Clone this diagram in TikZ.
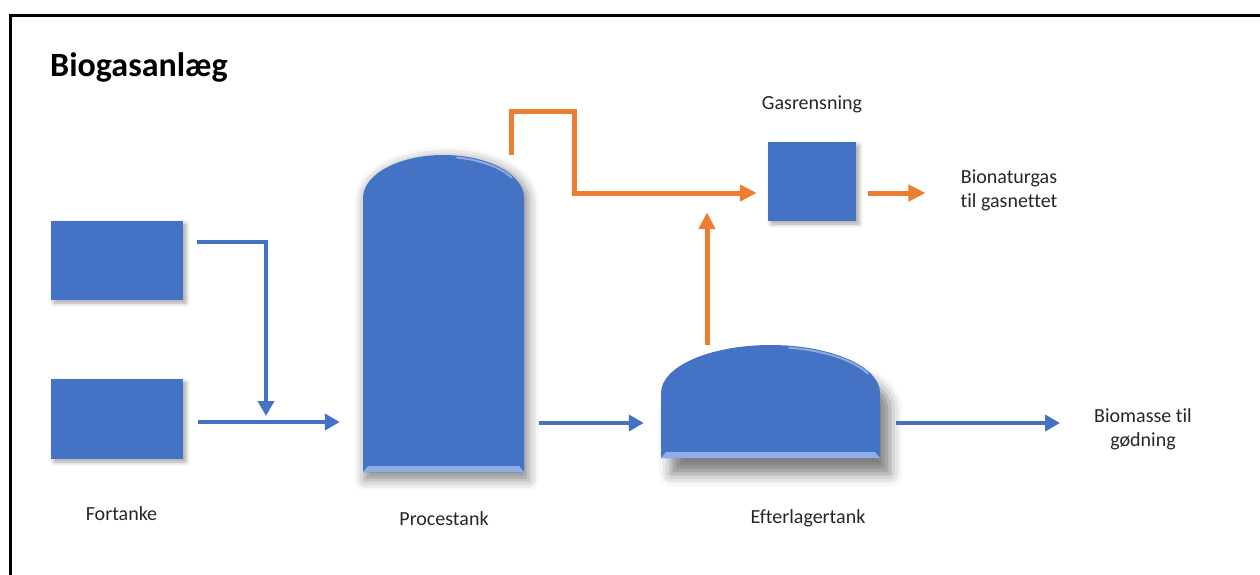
\documentclass[tikz,border=0pt]{standalone}
\usepackage{fontspec}
\setmainfont{Carlito}[Ligatures=NoCommon]
\usetikzlibrary{arrows.meta,calc,shadows.blur}
\definecolor{tblue}{HTML}{4472C4}
\definecolor{torange}{HTML}{ED7D31}
\definecolor{tlight}{HTML}{8FAEE6}
\definecolor{ttext}{HTML}{262626}
\begin{document}
\begin{tikzpicture}[x=1pt,y=-1pt,
  lbl/.style={font=\fontsize{20}{24.4}\selectfont, text=ttext, inner sep=0pt, align=center},
  boxnode/.style={fill=tblue, draw=none, inner sep=0pt,
     blur shadow={shadow xshift=3pt, shadow yshift=-3pt, shadow blur radius=4pt, shadow opacity=35}},
  anchornode/.style={draw=none, inner sep=0pt},
  barrow/.style={draw=tblue, line width=4.5pt, line join=miter, -{Triangle[length=15pt,width=16pt]}},
  oarrow/.style={draw=torange, line width=5pt, line join=miter, -{Triangle[length=17pt,width=16pt]}},
  frameline/.style={draw=black, line width=2.8pt, line join=miter},
  bevel/.style={fill=tlight, draw=none},
  highlight/.style={draw=white, opacity=.4, line width=2pt, line cap=round}
]
\useasboundingbox (0,0) rectangle (1260,574);

% frame
\draw[frameline] (10.5,575) -- (10.5,15.5) -- (1261,15.5);

% title
\node[font=\bfseries\fontsize{34}{40}\selectfont, text=black, anchor=base west, inner sep=0pt] (title) at (50,76) {Biogasanlæg};

% Fortanke boxes
\node[boxnode, minimum width=132pt, minimum height=79pt] (f1) at (117,260.5) {};
\node[boxnode, minimum width=132pt, minimum height=80pt] (f2) at (117,419) {};

% Procestank
\path[fill=tblue, blur shadow={shadow xshift=3pt, shadow yshift=-5pt, shadow scale=1.02, shadow blur radius=10pt, shadow opacity=45}]
  (363,472) -- (363,198) arc[start angle=180, end angle=360, x radius=80.5, y radius=43] -- (524,472) -- cycle;
\fill[bevel] (363,472) -- (368,466) -- (519,466) -- (524,472) -- cycle;
\draw[highlight] (443.5,198) ++(280:78.5 and 41) arc[start angle=280, end angle=330, x radius=78.5, y radius=41];
\node[anchornode, minimum width=161pt, minimum height=317pt] (proc) at (443.5,313.5) {};

% Efterlagertank
\path[fill=tblue, blur shadow={shadow xshift=10pt, shadow yshift=-16pt, shadow blur radius=12pt, shadow opacity=50}]
  (661,458) -- (661,393) arc[start angle=180, end angle=360, x radius=109.5, y radius=48] -- (880,458) -- cycle;
\fill[bevel] (661,458) -- (666,452) -- (875,452) -- (880,458) -- cycle;
\draw[highlight] (770.5,393) ++(280:107.5 and 46) arc[start angle=280, end angle=335, x radius=107.5, y radius=46];
\node[anchornode, minimum width=219pt, minimum height=113pt] (eft) at (770.5,401.5) {};

% Gasrensning box
\node[boxnode, minimum width=88pt, minimum height=79pt] (gas) at (812,181.5) {};

% labels
\node[lbl, anchor=base] (lfort) at (121.5,520) {Fortanke};
\node[lbl, anchor=base] (lproc) at (444,525) {Procestank};
\node[lbl, anchor=base] (left) at (808,523) {Efterlagertank};
\node[lbl, anchor=base] (lgas) at (812,109) {Gasrensning};
\node[lbl] (bionat) at (1009,190.5) {Bionaturgas\\til gasnettet};
\node[lbl] (biom) at (1143,429) {Biomasse til\\gødning};

% blue connectors
\coordinate (m) at (266,422);
\draw[barrow] ($(f1.east)+(14,-18.5)$) -| ($(m)+(0,-6)$);
\draw[barrow] ($(f2.east)+(15,3)$) -- ($(proc.west|-m)+(-23,0)$);
\draw[barrow] ($(proc.east|-m)+(15,1)$) -- ($(eft.west|-m)+(-17,1)$);
\draw[barrow] ($(eft.east|-m)+(16,1)$) -- ($(biom.west|-m)+(-34,1)$);

% orange connectors
\coordinate (o1) at ($(proc.north)+(67.5,0)$);
\coordinate (o2) at ($(proc.north)+(130.5,-43)$);
\draw[oarrow] (o1) |- (o2) |- ($(gas.west)+(-11,11.5)$);
\draw[oarrow] ($(eft.north)+(-63.5,0)$) -- ($(gas.south)+(-105,-9)$);
\draw[oarrow] ($(gas.east)+(12,11.5)$) -- ($(bionat.west)+(-35,2.5)$);
\end{tikzpicture}
\end{document}
